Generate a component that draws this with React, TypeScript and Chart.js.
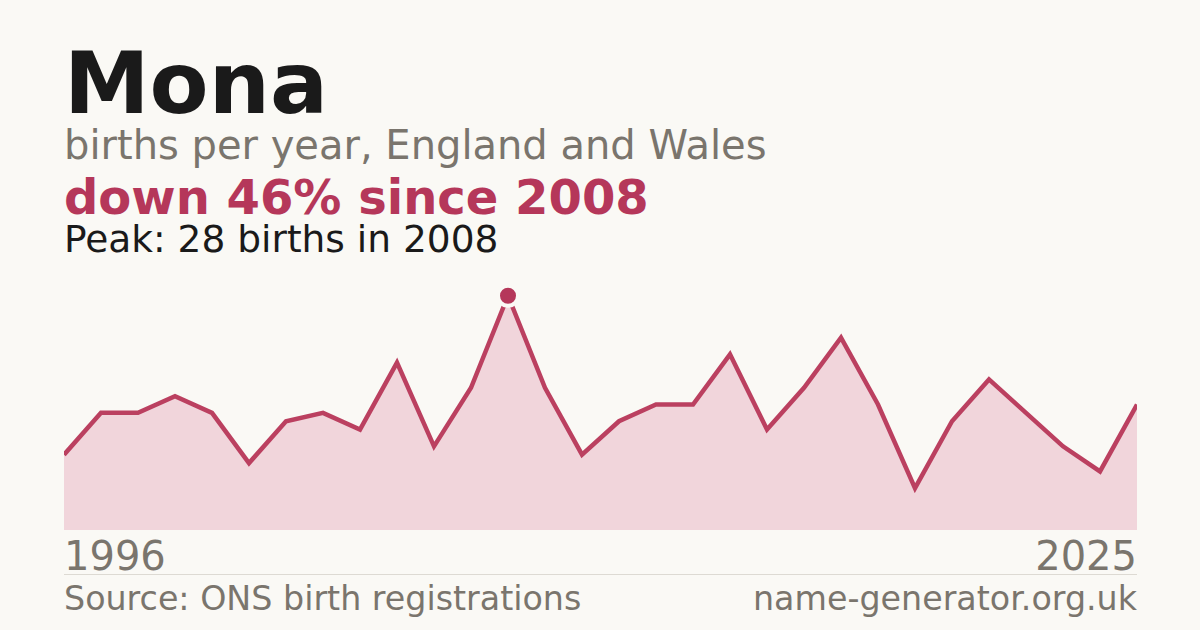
import React, { useEffect, useRef } from "react";
import Chart from "chart.js/auto";

const years = [
    "1996", "1997", "1998", "1999", "2000", "2001", "2002", "2003", "2004", "2005",
    "2006", "2007", "2008", "2009", "2010", "2011", "2012", "2013", "2014", "2015",
    "2016", "2017", "2018", "2019", "2020", "2021", "2022", "2023", "2024", "2025",
];
const births = [
    9, 14, 14, 16, 14, 8, 13, 14, 12, 20,
    10, 17, 28, 17, 9, 13, 15, 15, 21, 12,
    17, 23, 15, 5, 13, 18, 14, 10, 7, 15,
];
const peakYear = "2008";
const yMax = 30;

const BG = "#faf9f5";
const RED = "#b5375a";
const GREY = "#7a756d";
const INK = "#1a1a1a";
const FONT = "'DejaVu Sans', sans-serif";

const text = (top: number, size: number, color: string, bold = false): React.CSSProperties => ({
    position: "absolute",
    left: 64,
    top,
    fontFamily: FONT,
    fontSize: size,
    lineHeight: `${size}px`,
    color,
    fontWeight: bold ? "bold" : "normal",
    whiteSpace: "nowrap",
    margin: 0,
});

const NameChart = () => {
    const canvasRef = useRef<HTMLCanvasElement | null>(null);

    useEffect(() => {
        const ctx = canvasRef.current?.getContext("2d");
        if (!ctx) return;
        const peakIndex = years.indexOf(peakYear);

        const chart = new Chart(ctx, {
            type: "line",
            data: {
                labels: years,
                datasets: [
                    {
                        data: births,
                        borderColor: "#bb4060",
                        borderWidth: 4.5,
                        backgroundColor: "#f1d5db",
                        fill: "origin",
                        tension: 0,
                        clip: false,
                        pointRadius: (c: any) => (c.dataIndex === peakIndex ? 10 : 0),
                        pointHoverRadius: (c: any) => (c.dataIndex === peakIndex ? 10 : 0),
                        pointBackgroundColor: RED,
                        pointBorderColor: BG,
                        pointBorderWidth: 4,
                    },
                ],
            },
            options: {
                animation: false,
                responsive: true,
                maintainAspectRatio: false,
                layout: { padding: 0 },
                plugins: { legend: { display: false }, tooltip: { enabled: false } },
                events: [],
                scales: {
                    x: { display: false, offset: false },
                    y: { display: false, min: 0, max: yMax },
                },
            },
        });

        return () => {
            chart.destroy();
        };
    }, []);

    return (
        <div style={{ position: "absolute", left: 64, top: 279, width: 1073, height: 251 }}>
            <canvas ref={canvasRef} />
        </div>
    );
};

export default function App() {
    return (
        <div
            style={{
                position: "fixed",
                left: 0,
                top: 0,
                width: 1200,
                height: 630,
                background: BG,
                overflow: "hidden",
            }}
        >
            <div style={text(40, 86, INK, true)}>Mona</div>
            <div style={text(125, 40, GREY)}>births per year, England and Wales</div>
            <div style={text(173, 48, RED, true)}>down 46% since 2008</div>
            <div style={text(221, 37.5, INK)}>Peak: 28 births in 2008</div>
            <NameChart />
            <div style={text(536, 40, GREY)}>{years[0]}</div>
            <div style={{ ...text(536, 40, GREY), left: "auto", right: 63 }}>{years[years.length - 1]}</div>
            <div style={{ position: "absolute", left: 64, top: 574, width: 1073, height: 1, background: "#dddad3" }} />
            <div style={text(582, 33.3, GREY)}>Source: ONS birth registrations</div>
            <div style={{ ...text(582, 33.3, GREY), left: "auto", right: 63 }}>name-generator.org.uk</div>
        </div>
    );
}
